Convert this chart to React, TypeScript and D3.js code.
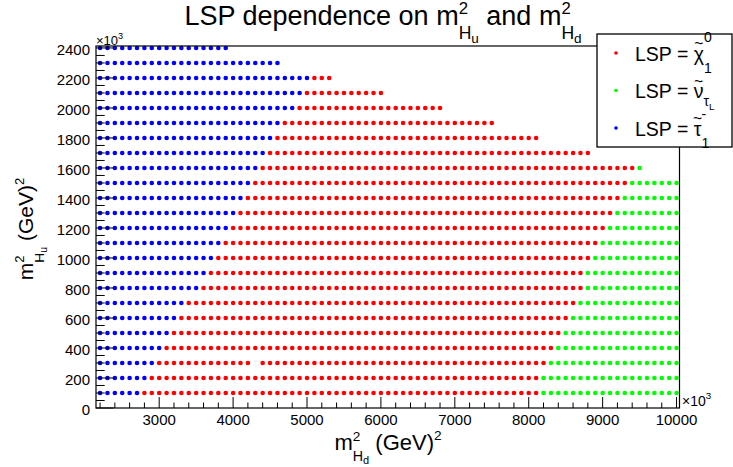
import React, { useRef, useEffect } from "react";
import * as d3 from "d3";

// scan rows, m2_Hu (x10^3 GeV^2), top to bottom
const rowsHu = [2400, 2300, 2200, 2100, 2000, 1900, 1800, 1700, 1600, 1500, 1400, 1300, 1200, 1100, 1000, 900, 800, 700, 600, 500, 400, 300, 200, 100];
// last m2_Hd point of each row where the stau is the LSP
const stauEnd = [3900, 4600, 5000, 4900, 4800, 4600, 4500, 4400, 4300, 4200, 4100, 4000, 3900, 3800, 3700, 3600, 3500, 3300, 3200, 3100, 3000, 2900, 2800, 2700];
// last point where the neutralino is the LSP
const chiEnd = [3900, 4600, 5300, 6000, 6800, 7500, 8100, 8800, 9400, 9300, 9200, 9100, 9000, 8900, 8800, 8700, 8700, 8600, 8500, 8400, 8300, 8200, 8100, 8100];
// last scanned point of each row (sneutrino LSP after chiEnd)
const rowEnd = [3900, 4600, 5300, 6000, 6800, 7500, 8100, 8800, 9500, 10000, 10000, 10000, 10000, 10000, 10000, 10000, 10000, 10000, 10000, 10000, 10000, 10000, 10000, 10000];
// m2_Hd scan start and step
const hdStart = 2200;
const hdStep = 100;
// scan points without a result
const missing = [[4300, 300]];

const xTicks = [3000, 4000, 5000, 6000, 7000, 8000, 9000, 10000];
const yTicks = [0, 200, 400, 600, 800, 1000, 1200, 1400, 1600, 1800, 2000, 2200, 2400];

const colors = { chi: "#ff0000", snu: "#00ff00", stau: "#0000ff" };

type Seg = { t: string; k?: number; dy?: number; at?: "after" | "same" | "max" | "over" };

// lays out a line of text with sup/subscripts, returns its width
function rich(g: any, segs: Seg[], fs: number) {
  let maxX = 0, prevStart = 0, prevEnd = 0, prevW = 0;
  segs.forEach((s) => {
    const node = g
      .append("text")
      .attr("font-size", fs * (s.k ?? 1))
      .attr("y", (s.dy ?? 0) * fs)
      .style("white-space", "pre")
      .text(s.t);
    const w = node.node().getComputedTextLength();
    let x = prevEnd;
    if (s.at === "same") x = prevStart;
    if (s.at === "max") x = maxX;
    if (s.at === "over") x = prevStart + prevW / 2 - w / 2;
    node.attr("x", x);
    if (s.at !== "over") {
      prevStart = x;
      prevEnd = x + w;
      prevW = w;
      maxX = Math.max(maxX, prevEnd);
    }
  });
  return maxX;
}

function mSq(sub: string): Seg[] {
  return [
    { t: "m" },
    { t: "2", k: 0.62, dy: -0.42 },
    { t: "H", k: 0.65, dy: 0.5, at: "same" },
    { t: sub, k: 0.5, dy: 0.65 },
  ];
}

function LspChart() {
  const ref = useRef<SVGSVGElement>(null);

  useEffect(() => {
    const svg = d3.select(ref.current);
    svg.selectAll("*").remove();

    const left = 96, right = 679.5, top = 46, bottom = 408;
    const x = d3.scaleLinear().domain([2145, 10040]).range([left, right]);
    const y = d3.scaleLinear().domain([0, 2413]).range([bottom, top]);

    const pts: { hd: number; hu: number; kind: "chi" | "snu" | "stau" }[] = [];
    rowsHu.forEach((hu, i) => {
      for (let hd = hdStart; hd <= rowEnd[i]; hd += hdStep) {
        if (missing.some((m) => m[0] === hd && m[1] === hu)) continue;
        const kind = hd <= stauEnd[i] ? "stau" : hd <= chiEnd[i] ? "chi" : "snu";
        pts.push({ hd, hu, kind });
      }
    });

    svg
      .append("g")
      .selectAll("circle")
      .data(pts)
      .join("circle")
      .attr("cx", (d) => x(d.hd))
      .attr("cy", (d) => y(d.hu))
      .attr("r", 2.3)
      .attr("fill", (d) => colors[d.kind]);

    // frame
    svg
      .append("rect")
      .attr("x", left)
      .attr("y", top)
      .attr("width", right - left)
      .attr("height", bottom - top)
      .attr("fill", "none")
      .attr("stroke", "#000")
      .attr("stroke-width", 1.2);

    const axes = svg.append("g").attr("stroke", "#000").attr("stroke-width", 1);
    axes
      .selectAll(".xminor")
      .data(d3.range(2200, 10001, 200))
      .join("line")
      .attr("x1", (d) => x(d))
      .attr("x2", (d) => x(d))
      .attr("y1", bottom)
      .attr("y2", (d) => (d % 1000 === 0 ? bottom - 11 : bottom - 5.5));
    axes
      .selectAll(".yminor")
      .data(d3.range(0, 2401, 50))
      .join("line")
      .attr("y1", (d) => y(d))
      .attr("y2", (d) => y(d))
      .attr("x1", left)
      .attr("x2", (d) => (d % 200 === 0 ? left + 17.5 : left + 8.7));

    const font = "'Liberation Sans', Arial, sans-serif";
    const labels = svg.append("g").attr("font-family", font).attr("font-size", 15).attr("fill", "#000");
    labels
      .selectAll(".xl")
      .data(xTicks)
      .join("text")
      .attr("x", (d) => x(d))
      .attr("y", 425)
      .attr("text-anchor", "middle")
      .text((d) => d);
    labels
      .selectAll(".yl")
      .data(yTicks)
      .join("text")
      .attr("x", 90)
      .attr("y", (d) => y(d) + 7)
      .attr("text-anchor", "end")
      .text((d) => d);

    const txt = svg.append("g").attr("font-family", font).attr("fill", "#000");

    // x10^3 multipliers
    rich(txt.append("g").attr("transform", "translate(96,45)"), [{ t: "×10" }, { t: "3", k: 0.7, dy: -0.5 }], 13);
    rich(txt.append("g").attr("transform", "translate(682,406)"), [{ t: "×10" }, { t: "3", k: 0.7, dy: -0.5 }], 14);

    // title
    const tg = txt.append("g");
    const tw = rich(
      tg,
      [{ t: "LSP dependence on " }, ...mSq("u"), { t: " and ", at: "max" }, ...mSq("d")],
      27
    );
    tg.attr("transform", `translate(${383 - tw / 2},25)`);

    // axis titles
    const xg = txt.append("g");
    const xw = rich(xg, [...mSq("d"), { t: " (GeV)", at: "max" }, { t: "2", k: 0.62, dy: -0.45 }], 22);
    xg.attr("transform", `translate(${388 - xw / 2},450)`);

    const yg = txt.append("g");
    const yInner = yg.append("g");
    const yw = rich(yInner, [...mSq("u"), { t: " (GeV)", at: "max" }, { t: "2", k: 0.62, dy: -0.45 }], 21);
    yInner.attr("transform", `translate(${-yw / 2},0)`);
    yg.attr("transform", "translate(33,229) rotate(-90)");

    // legend
    const lg = svg.append("g").attr("font-family", font).attr("fill", "#000");
    lg.append("rect")
      .attr("x", 597)
      .attr("y", 34)
      .attr("width", 135)
      .attr("height", 113)
      .attr("fill", "#fff")
      .attr("stroke", "#000")
      .attr("stroke-width", 1.3);

    const entries: { kind: "chi" | "snu" | "stau"; segs: Seg[] }[] = [
      {
        kind: "chi",
        segs: [
          { t: "LSP = " },
          { t: "χ" },
          { t: "~", k: 0.8, dy: -0.58, at: "over" },
          { t: "0", k: 0.72, dy: -0.95 },
          { t: "1", k: 0.72, dy: 0.62, at: "same" },
        ],
      },
      {
        kind: "snu",
        segs: [
          { t: "LSP = " },
          { t: "ν" },
          { t: "~", k: 0.8, dy: -0.58, at: "over" },
          { t: "τ", k: 0.72, dy: 0.42 },
          { t: "L", k: 0.5, dy: 0.6 },
        ],
      },
      {
        kind: "stau",
        segs: [
          { t: "LSP = " },
          { t: "τ" },
          { t: "~", k: 0.8, dy: -0.58, at: "over" },
          { t: "-", k: 0.72, dy: -0.85 },
          { t: "1", k: 0.72, dy: 0.62, at: "same" },
        ],
      },
    ];
    entries.forEach((e, i) => {
      const cy = 53 + i * 37.5;
      lg.append("circle").attr("cx", 616).attr("cy", cy).attr("r", 1.8).attr("fill", colors[e.kind]);
      rich(lg.append("g").attr("transform", `translate(635,${cy + 7.7})`), e.segs, 19.5);
    });
  }, []);

  return (
    <svg
      ref={ref}
      width={733}
      height={467}
      style={{ position: "absolute", left: 0, top: 0, background: "#fff" }}
    />
  );
}

export default function App() {
  return <LspChart />;
}
